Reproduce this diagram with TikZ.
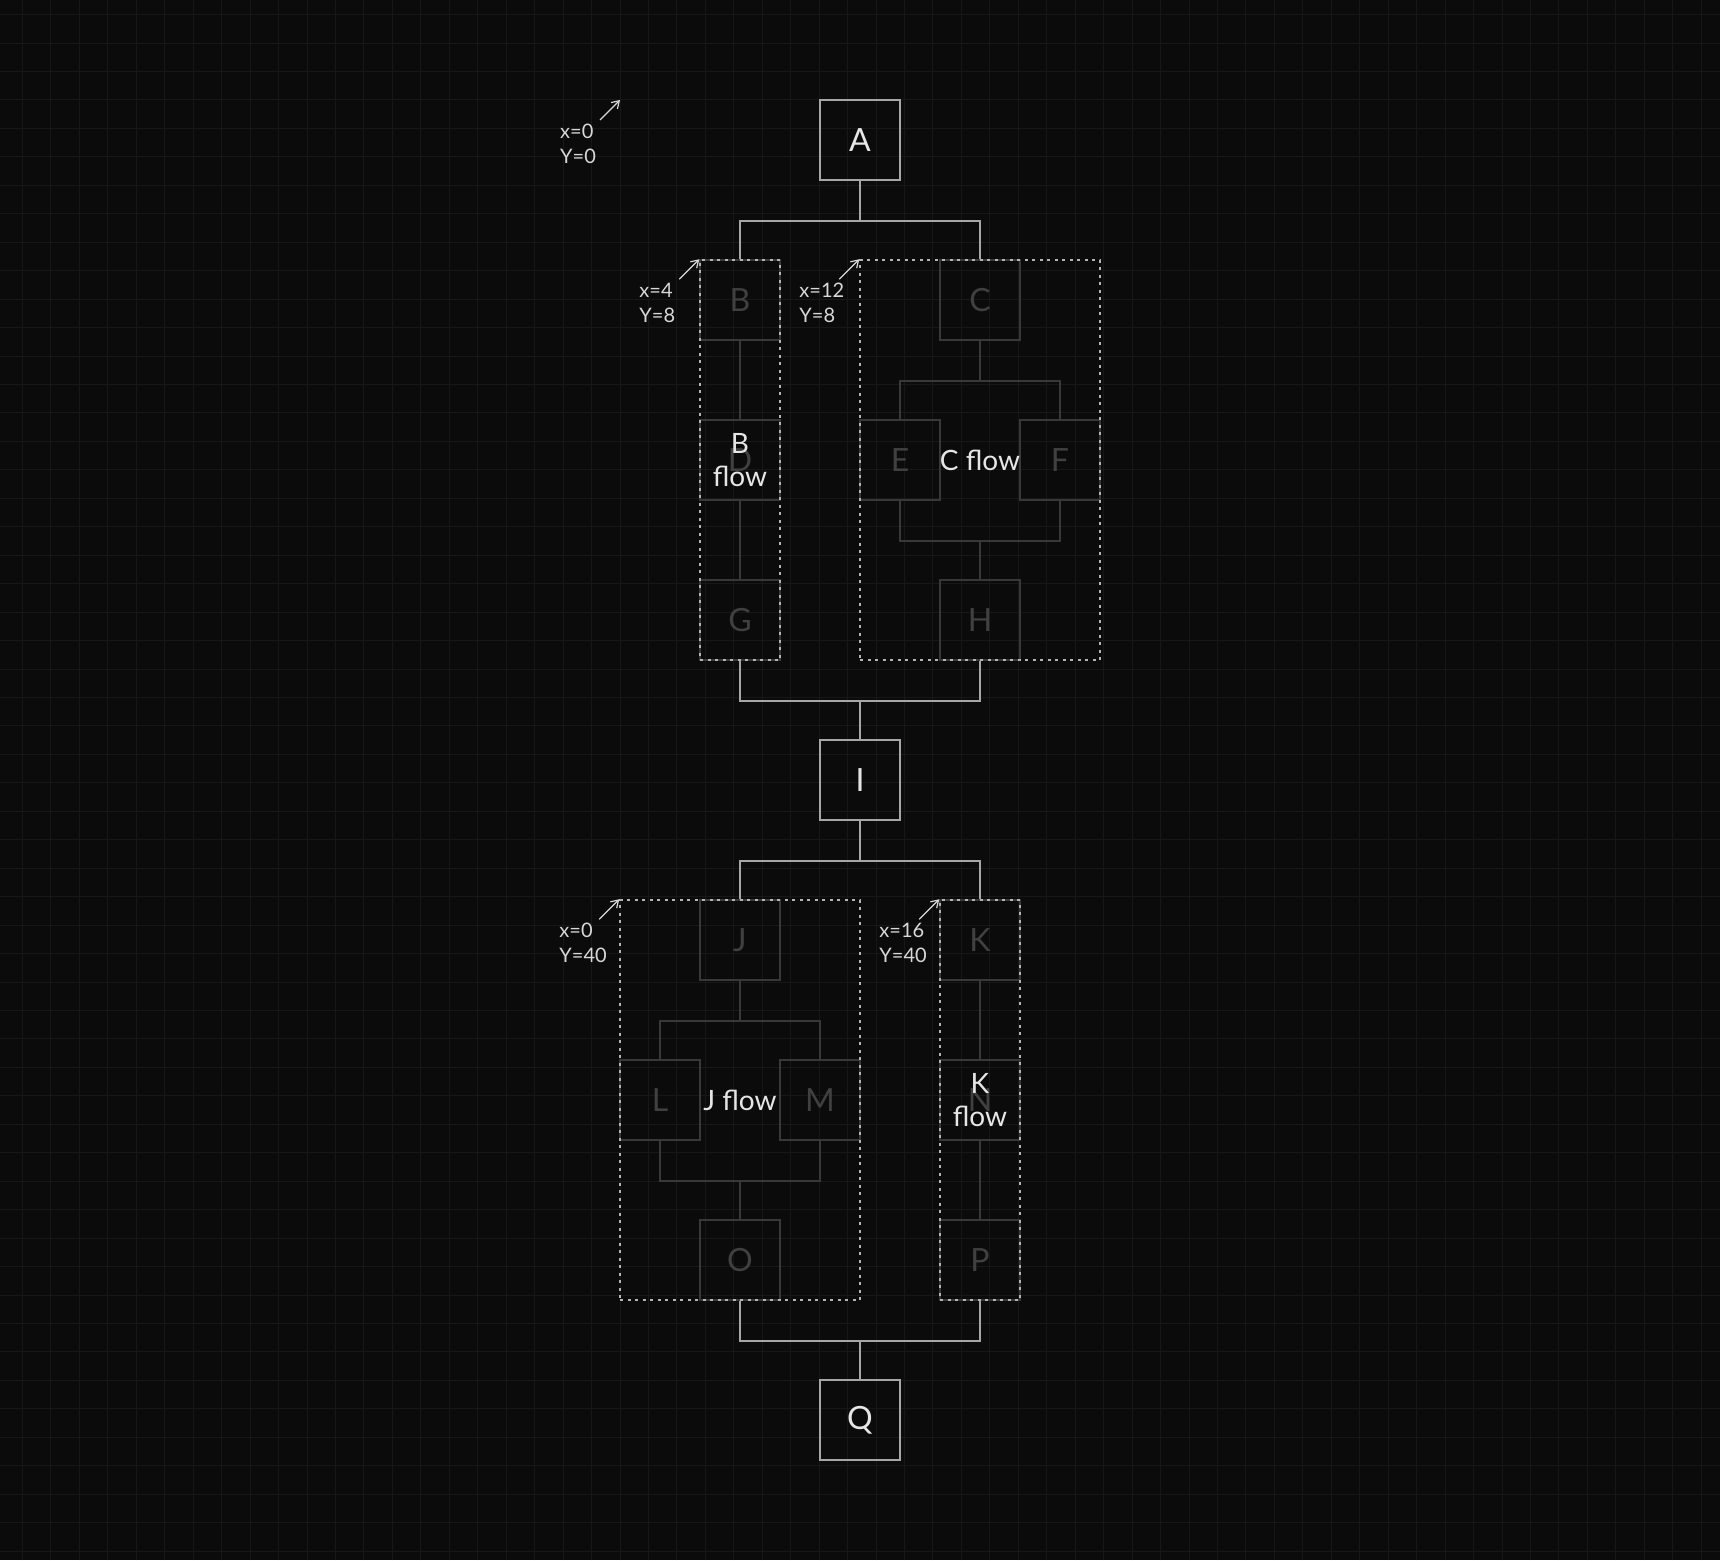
\documentclass[tikz,border=0pt]{standalone}
\usepackage{fontspec}
\setmainfont{Lato}
\usetikzlibrary{positioning,arrows.meta}

\definecolor{canvas}{HTML}{0B0B0B}
\definecolor{gridgray}{HTML}{171717}
\definecolor{boxline}{HTML}{A6A6A6}
\definecolor{mainfg}{HTML}{E6E6E6}
\definecolor{subline}{HTML}{383838}
\definecolor{subfg}{HTML}{404040}
\definecolor{groupline}{HTML}{B4B4B4}
\definecolor{tagfg}{HTML}{D8D8D8}

\begin{document}
\begin{tikzpicture}[x=20pt,y=20pt,on grid,node distance=160pt,
    mainbox/.style={draw=boxline,line width=2pt,minimum size=80pt,inner sep=0pt,
      text=mainfg,font=\fontsize{32}{38}\selectfont},
    subbox/.style={draw=subline,line width=1.5pt,minimum size=80pt,inner sep=0pt,
      text=subfg,font=\fontsize{32}{38}\selectfont},
    groupbox/.style={draw=groupline,line width=1.5pt,dash pattern=on 3pt off 4.5pt,
      minimum height=400pt,inner sep=0pt},
    mainline/.style={draw=boxline,line width=2pt},
    subline/.style={draw=subline,line width=1.5pt},
    flowlabel/.style={text=mainfg,align=center,inner sep=0pt,
      font=\fontsize{28}{33}\selectfont},
    taglabel/.style={text=tagfg,anchor=west,align=left,inner sep=0pt,
      font=\fontsize{20}{25}\selectfont},
    tagarrow/.style={draw=tagfg,line width=1.2pt,-{Straight Barb[length=7pt,width=9pt]}}]

  % canvas and grid
  \fill[canvas] (-31,5) rectangle (55,-73);
  \useasboundingbox (-31,5) rectangle (55,-73);
  \draw[gridgray,line width=1pt] (-31,5) grid (55,-73);
  \coordinate (origin) at (0,0);

  % B flow
  \node[subbox] (B) at (6,-10) {B};
  \node[subbox] (D) [below=of B] {D};
  \node[subbox] (G) [below=of D] {G};
  \path[subline] (B) -- (D) (D) -- (G);

  % C flow
  \node[subbox] (C) at (18,-10) {C};
  \node[subbox] (E) [below left=160pt and 80pt of C] {E};
  \node[subbox] (F) [below right=160pt and 80pt of C] {F};
  \node[subbox] (H) [below=320pt of C] {H};
  \path[subline] (C.south) -- ++(0,-2) coordinate (splitC);
  \path[subline] (E.north) |- (splitC) -| (F.north);
  \path[subline] (E.south) -- ++(0,-2) coordinate (joinC) -| (F.south);
  \path[subline] (H.north) -- (H.north |- joinC);

  % J flow
  \node[subbox] (J) at (6,-42) {J};
  \node[subbox] (L) [below left=160pt and 80pt of J] {L};
  \node[subbox] (M) [below right=160pt and 80pt of J] {M};
  \node[subbox] (O) [below=320pt of J] {O};
  \path[subline] (J.south) -- ++(0,-2) coordinate (splitJ);
  \path[subline] (L.north) |- (splitJ) -| (M.north);
  \path[subline] (L.south) -- ++(0,-2) coordinate (joinJ) -| (M.south);
  \path[subline] (O.north) -- (O.north |- joinJ);

  % K flow
  \node[subbox] (K) at (18,-42) {K};
  \node[subbox] (N) [below=of K] {N};
  \node[subbox] (P) [below=of N] {P};
  \path[subline] (K) -- (N) (N) -- (P);

  % groups
  \node[groupbox,minimum width=80pt]  (Bgrp) at (6,-18)  {};
  \node[groupbox,minimum width=240pt] (Cgrp) at (18,-18) {};
  \node[groupbox,minimum width=240pt] (Jgrp) at (6,-50)  {};
  \node[groupbox,minimum width=80pt]  (Kgrp) at (18,-50) {};

  % main flow
  \node[mainbox] (A) at (12,-2)  {A};
  \node[mainbox] (I) at (12,-34) {I};
  \node[mainbox] (Q) at (12,-66) {Q};
  \path[mainline] (A.south) -- ++(0,-2) coordinate (splitA);
  \path[mainline] (Bgrp.north) |- (splitA) -| (Cgrp.north);
  \path[mainline] (Bgrp.south) -- ++(0,-2) coordinate (joinA) -| (Cgrp.south);
  \path[mainline] (I.north) -- (I.north |- joinA);
  \path[mainline] (I.south) -- ++(0,-2) coordinate (splitI);
  \path[mainline] (Jgrp.north) |- (splitI) -| (Kgrp.north);
  \path[mainline] (Jgrp.south) -- ++(0,-2) coordinate (joinI) -| (Kgrp.south);
  \path[mainline] (Q.north) -- (Q.north |- joinI);

  \node[flowlabel] at (Bgrp) {B\\flow};
  \node[flowlabel] at (Cgrp) {C flow};
  \node[flowlabel] at (Jgrp) {J flow};
  \node[flowlabel] at (Kgrp) {K\\flow};

  % position tags
  \foreach \corner/\xv/\yv in {origin/0/0, Bgrp.north west/4/8, Cgrp.north west/12/8,
      Jgrp.north west/0/40, Kgrp.north west/16/40}{
    \draw[tagarrow] ([shift={(-1,-1)}]\corner) -- (\corner);
    \node[taglabel] at ([shift={(-3,-2.2)}]\corner) {x=\xv\\Y=\yv};
  }
\end{tikzpicture}
\end{document}
